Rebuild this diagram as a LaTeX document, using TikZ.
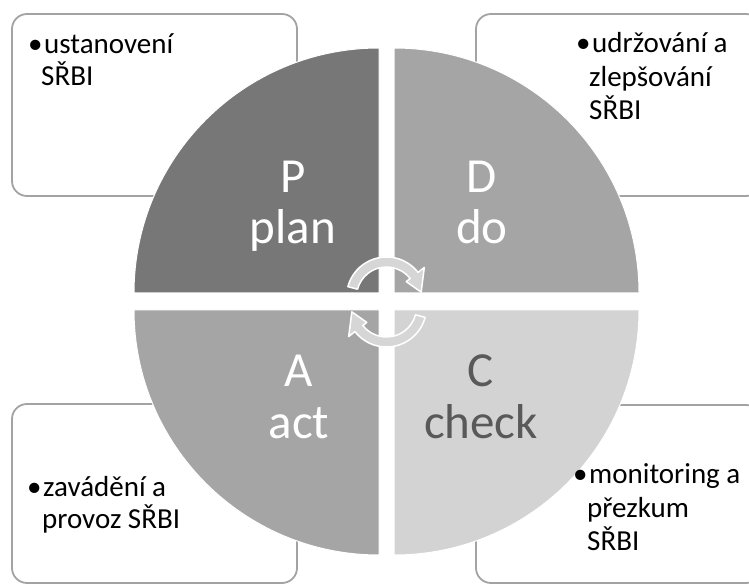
\documentclass[tikz,border=0pt]{standalone}
\usepackage{fontspec}
\setmainfont{Carlito}
\definecolor{qdark}{HTML}{777777}
\definecolor{qmid}{HTML}{A5A5A5}
\definecolor{qlight}{HTML}{D3D3D3}
\definecolor{boxline}{HTML}{A3A3A3}
\definecolor{arrowfill}{HTML}{D6D6D6}
\definecolor{ctext}{HTML}{595959}
\begin{document}
\begin{tikzpicture}[x=1pt,y=1pt,
  infobox/.style={draw=boxline,line width=1.8pt,rounded corners=15pt,fill=white},
  quad/.style={draw=white,line width=1pt},
  bigtext/.style={font=\fontsize{49}{53}\selectfont,anchor=base,inner sep=0pt},
  note/.style={font=\fontsize{29}{33}\selectfont,anchor=base west,inner sep=0pt},
  cyc/.style={fill=arrowfill,draw=white,line width=1.5pt,line join=round}]
\useasboundingbox (0,0) rectangle (749,584);
\clip (0,0) rectangle (749,584);

% corner boxes
\draw[infobox] (12,570) rectangle (297,388);
\draw[infobox] (476,570) rectangle (761,388);
\draw[infobox] (12,180) rectangle (297,1);
\draw[infobox] (476,179) rectangle (761,1);

% four quarter discs
\path[quad,fill=qdark]  (379,291) -- (134,291) arc[start angle=180,end angle=90,radius=245] -- cycle;
\path[quad,fill=qmid]   (394,291) -- (394,536) arc[start angle=90,end angle=0,radius=245] -- cycle;
\path[quad,fill=qmid]   (379,274) -- (379,29) arc[start angle=270,end angle=180,radius=245] -- cycle;
\path[quad,fill=qlight] (394,274) -- (639,274) arc[start angle=0,end angle=-90,radius=245] -- cycle;

% quadrant labels
\node[bigtext,text=white] (pL) at (293,391) {P};
\node[bigtext,text=white] (pW) at (293,340) {plan};
\node[bigtext,text=white] (dL) at (482,391) {D};
\node[bigtext,text=white] (dW) at (482,340) {do};
\node[bigtext,text=white] (aL) at (299,197) {A};
\node[bigtext,text=white] (aW) at (299,146) {act};
\node[bigtext,text=ctext] (cL) at (481,197) {C};
\node[bigtext,text=ctext] (cW) at (481,146) {check};

% circular arrows in the middle
\begin{scope}[shift={(386.5,287)}]
  \path[cyc] (165:40) arc[start angle=165,end angle=38,radius=40]
    -- (38:48) -- (8:35) -- (38:25) -- (38:30)
    arc[start angle=38,end angle=165,radius=30] -- cycle;
\end{scope}
\begin{scope}[shift={(386.5,277)},rotate=180]
  \path[cyc] (165:40) arc[start angle=165,end angle=38,radius=40]
    -- (38:48) -- (8:35) -- (38:25) -- (38:30)
    arc[start angle=38,end angle=165,radius=30] -- cycle;
\end{scope}

% box texts
\node[note] (tl1) at (28,530) {\makebox[16pt][l]{•}ustanovení};
\node[note] (tl2) at (41,498) {SŘBI};

\node[note] (tr1) at (576,531) {\makebox[16pt][l]{•}udržování a};
\node[note] (tr2) at (589,497) {zlepšování};
\node[note] (tr3) at (589,464) {SŘBI};

\node[note] (bl1) at (27,88) {\makebox[16pt][l]{•}zavádění a};
\node[note] (bl2) at (42,56) {provoz SŘBI};

\node[note] (br1) at (573,101) {\makebox[16pt][l]{•}monitoring a};
\node[note] (br2) at (587,67) {přezkum};
\node[note] (br3) at (587,34) {SŘBI};
\end{tikzpicture}
\end{document}
